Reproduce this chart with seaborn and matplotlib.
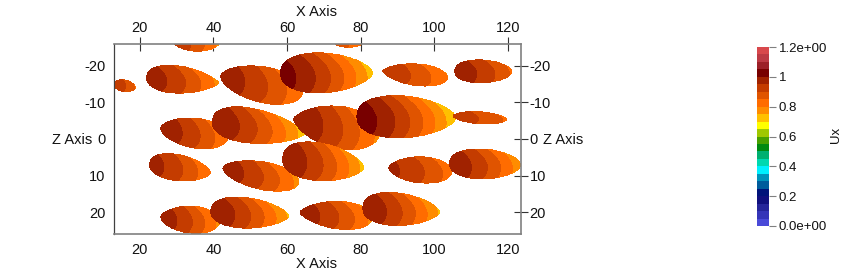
import matplotlib
matplotlib.use("Agg")
import matplotlib.pyplot as plt
from matplotlib.colors import ListedColormap, BoundaryNorm
import numpy as np
import seaborn as sns

# one entry per blob: tips of the long axis (x, z), half thickness, bands
x_left = [29.0, 73.0, 13.0, 21.9, 42.0, 58.3, 86.0, 105.6, 25.7, 39.8, 61.8, 79.0, 105.1, 22.7, 42.6, 58.9, 87.7, 104.2, 25.7, 39.3, 63.5, 80.6]
x_right = [41.5, 80.3, 18.9, 41.5, 64.3, 83.3, 103.7, 121.1, 43.9, 64.8, 85.2, 105.9, 119.7, 39.3, 63.2, 80.9, 104.8, 123.5, 41.7, 60.5, 83.3, 101.5]
z_left = [-26.6, -26.0, -15.1, -17.0, -17.3, -18.1, -18.6, -18.6, -3.0, -5.2, -5.5, -6.3, -6.3, 6.6, 7.9, 4.9, 7.9, 6.6, 21.4, 19.5, 20.0, 18.6]
z_right = [-26.0, -26.0, -14.0, -15.3, -12.6, -18.1, -16.7, -18.4, -0.3, -1.4, -1.1, -5.8, -5.3, 9.3, 12.0, 7.9, 9.0, 7.1, 22.7, 21.1, 21.6, 20.0]
half_width = [2.3, 0.9, 1.6, 3.8, 4.9, 5.5, 3.0, 3.15, 4.1, 4.8, 5.8, 5.8, 1.65, 3.6, 3.8, 5.2, 3.6, 4.1, 3.7, 4.2, 3.8, 4.5]
head = [0.7, 0.7, 0.5, 0.45, 0.6, 0.42, 0.7, 0.42, 0.6, 0.42, 0.7, 0.42, 0.6, 0.45, 0.6, 0.42, 0.6, 0.42, 0.6, 0.42, 0.7, 0.42]
tail = [0.7, 0.7, 0.6, 0.75, 0.5, 0.62, 0.55, 0.55, 0.5, 0.72, 0.55, 0.62, 0.6, 0.65, 0.5, 0.65, 0.5, 0.55, 0.5, 0.65, 0.5, 0.65]
ux_left = [0.94, 0.88, 0.94, 0.98, 0.98, 1.02, 0.94, 0.985, 0.985, 0.995, 0.995, 1.03, 0.93, 0.97, 0.98, 0.995, 0.96, 0.99, 0.98, 0.995, 0.98, 0.995]
ux_right = [0.78, 0.8, 0.84, 0.78, 0.8, 0.72, 0.8, 0.84, 0.8, 0.72, 0.78, 0.7, 0.84, 0.8, 0.78, 0.73, 0.82, 0.76, 0.78, 0.74, 0.78, 0.74]

x_ticks = [20, 40, 60, 80, 100, 120]
z_ticks = [-20, -10, 0, 10, 20]
bar_ticks = [1.2, 1.0, 0.8, 0.6, 0.4, 0.2, 0.0]
bar_labels = ["1.2e+00", "1", "0.8", "0.6", "0.4", "0.2", "0.0e+00"]

# colour bands of the Ux bar, 0.0 upwards in steps of 0.05
band_colors = ["#4a4ad8", "#3535b8", "#25259a", "#10107e", "#00147a", "#005c9c", "#0094bc", "#00f0ff",
               "#00d8b0", "#00b070", "#008a10", "#48a000", "#a0c800", "#ffff00", "#ffc000", "#ff8c00",
               "#ff6c00", "#e05400", "#c43c00", "#a02200", "#780000", "#9c2028", "#bc3a44", "#d8484c"]
levels = np.arange(0, 1.2001, 0.05)

sns.set_theme(style="white", font="Liberation Sans")
plt.rcParams["font.size"] = 10.5
plt.rcParams["axes.unicode_minus"] = False
cmap = ListedColormap(sns.color_palette(band_colors, n_colors=len(band_colors)))
norm = BoundaryNorm(levels, cmap.N)

fig = plt.figure(figsize=(8.5, 2.78), dpi=100)
ax = fig.add_axes([114 / 850, 1 - 234 / 278, 407 / 850, 190 / 278])

xg = np.arange(11, 125, 0.08)
zg = np.arange(-29, 29, 0.08)
X, Z = np.meshgrid(xg, zg)

for i in range(len(x_left)):
    dx = x_right[i] - x_left[i]
    dz = z_right[i] - z_left[i]
    length = np.hypot(dx, dz)
    u = ((X - x_left[i]) * dx + (Z - z_left[i]) * dz) / length ** 2
    w = (-(X - x_left[i]) * dz + (Z - z_left[i]) * dx) / length
    a, b = head[i], tail[i]
    peak = (a / (a + b)) ** a * (b / (a + b)) ** b
    uc = np.clip(u, 1e-6, 1 - 1e-6)
    h = half_width[i] * uc ** a * (1 - uc) ** b / peak
    inside = (u > 0) & (u < 1) & (np.abs(w) < h)
    # band edges bow to the right and lean with depth, and crowd towards the tail
    ue = u + 0.13 * (w / half_width[i]) ** 2 - 0.07 * (w / half_width[i])
    ux = ux_left[i] + (ux_right[i] - ux_left[i]) * np.clip(ue, 0, 1.05) ** 1.45
    ux = np.ma.masked_where(~inside, ux)
    ax.contourf(X, Z, ux, levels=levels, cmap=cmap, norm=norm, zorder=2 + i)

ax.set_xlim(13, 123.6)
ax.set_ylim(26, -26)
ax.set_xticks(x_ticks)
ax.set_yticks(z_ticks)
ax.tick_params(axis="both", direction="inout", length=10.5, width=0.8, color="#333333", labelsize=10.5,
               labelcolor="#111111", top=True, right=True, labeltop=True, labelright=True, pad=1)
for side in ax.spines:
    ax.spines[side].set_color("#808080")
    ax.spines[side].set_linewidth(1.2)
    ax.spines[side].set_zorder(50)
ax.spines["left"].set_color("#404040")
ax.spines["left"].set_linewidth(0.9)

fig.text(317 / 850, 1 - 12 / 278, "X Axis", ha="center", va="center", fontsize=10.5, color="#111111")
fig.text(317 / 850, 1 - 264 / 278, "X Axis", ha="center", va="center", fontsize=10.5, color="#111111")
fig.text(72 / 850, 1 - 140 / 278, "Z Axis", ha="center", va="center", fontsize=10.5, color="#111111")
fig.text(563 / 850, 1 - 140 / 278, "Z Axis", ha="center", va="center", fontsize=10.5, color="#111111")

cax = fig.add_axes([757 / 850, 1 - 226 / 278, 12 / 850, 179 / 278])
centers = (levels[:-1] + levels[1:]) / 2
sns.heatmap(centers[::-1].reshape(-1, 1), ax=cax, cmap=cmap, norm=norm, cbar=False, xticklabels=False)
cax.set_yticks([(1.2 - t) / 0.05 for t in bar_ticks])
cax.set_yticklabels(bar_labels, rotation=0)
cax.yaxis.tick_right()
cax.tick_params(axis="y", length=5, width=0.8, color="#808080", labelsize=9.5, labelcolor="#111111", pad=2)

fig.text(836 / 850, 1 - 135 / 278, "Ux", rotation=90, ha="center", va="center", fontsize=9.5, color="#111111")

fig.savefig("out.png", dpi=100)
